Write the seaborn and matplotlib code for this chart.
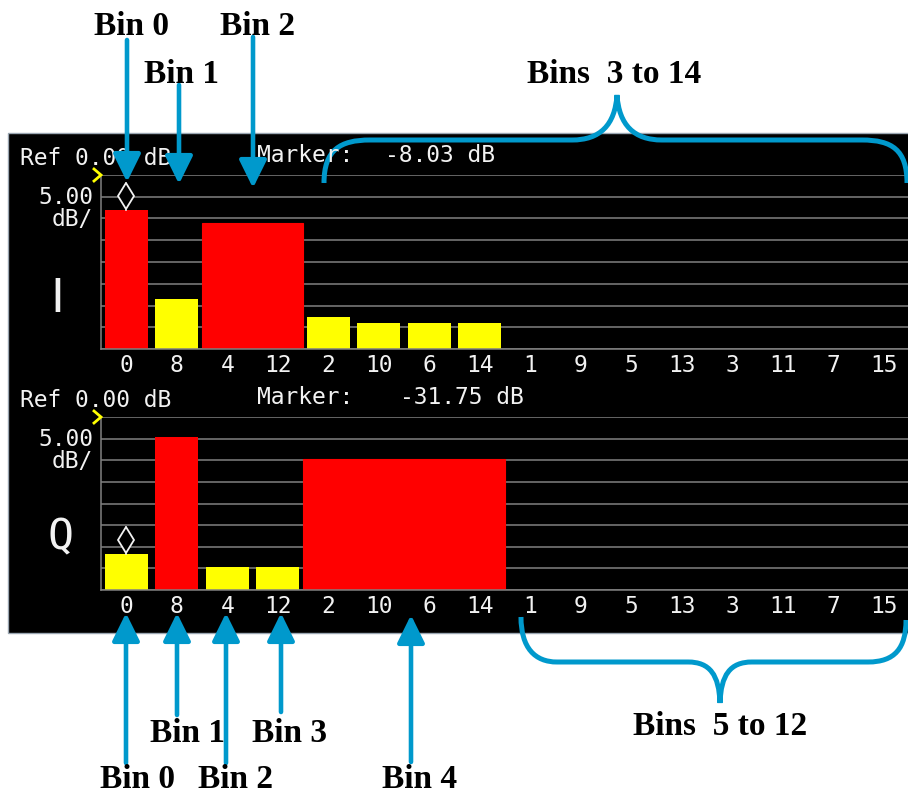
import numpy as np
import pandas as pd
import seaborn as sns
import matplotlib.pyplot as plt
from matplotlib.patches import Rectangle, PathPatch
from matplotlib.path import Path

# Step 1: Data (in dB)
bin_order = ['0', '8', '4', '12', '2', '10', '6', '14',
             '1', '9', '5', '13', '3', '11', '7', '15']

i_bins = ['0', '8', '2', '10', '6', '14']
i_db = [-8.03, -28.5, -32.6, -34.0, -34.0, -34.0]
i_colors = ['red', 'yellow', 'yellow', 'yellow', 'yellow', 'yellow']
i_wide_bins = ['4', '12']
i_wide_db = [-11.0, -11.0]
i_marker_db = -8.03

q_bins = ['0', '8', '4', '12']
q_db = [-31.75, -4.6, -34.7, -34.7]
q_colors = ['yellow', 'red', 'yellow', 'yellow']
q_wide_bins = ['2', '10', '6', '14']
q_wide_db = [-9.7, -9.7, -9.7, -9.7]
q_marker_db = -31.75

ref_db = 0.0
db_per_div = 5.0
n_div = 8
floor_db = ref_db - db_per_div * n_div

top_labels = ['Bin 0', 'Bin 1', 'Bin 2', 'Bins  3 to 14']
bottom_labels = ['Bin 1', 'Bin 3', 'Bin 0', 'Bin 2', 'Bin 4', 'Bins  5 to 12']

# Step 2: Style
pal = {'red': '#ff0000', 'yellow': '#ffff00'}
blue = '#0099cc'
grid_gray = '#808080'
screen_white = '#f2f2f2'
plt.rcParams['font.family'] = ['DejaVu Sans Mono']

W, H = 908, 794
fig = plt.figure(figsize=(W / 100, H / 100), dpi=100)

# background axes in pixel coordinates (black instrument screen)
bg = fig.add_axes([0, 0, 1, 1])
bg.set_xlim(0, W)
bg.set_ylim(H, 0)
bg.axis('off')
bg.add_patch(Rectangle((8, 133), 905, 500, facecolor='black',
                       edgecolor='#9aa6b2', linewidth=1.0))


def bin_frame(bins, db, colors):
    # slot position on screen follows the bit-reversed bin order
    return pd.DataFrame({'slot': [bin_order.index(b) for b in bins],
                         'height': np.array(db) - floor_db,
                         'c': colors})


def draw_panel(ax, bins, db, colors, wide_bins, wide_db, marker_db):
    df = bin_frame(bins, db, colors)
    sns.barplot(data=df, x='slot', y='height', hue='c', palette=pal,
                native_scale=True, width=0.86, dodge=False, saturation=1,
                errorbar=None, legend=False, linewidth=0, ax=ax)
    wide = bin_frame(wide_bins, wide_db, ['red'] * len(wide_bins))
    sns.barplot(data=wide, x='slot', y='height', color=pal['red'],
                native_scale=True, width=1.0, saturation=1, errorbar=None,
                edgecolor=pal['red'], linewidth=0.8, ax=ax)

    ax.set_facecolor('none')
    ax.set_xlim(-0.5, len(bin_order) - 0.5)
    ax.set_xticks(range(len(bin_order)))
    ax.set_xticklabels(bin_order)
    ax.set_ylim(0, n_div * db_per_div)
    ax.set_yticks(np.arange(0, n_div * db_per_div + 1, db_per_div))
    ax.set_yticklabels([])
    ax.yaxis.grid(True, color=grid_gray, linewidth=1.1)
    ax.xaxis.grid(False)
    ax.set_axisbelow(True)
    ax.set_xlabel('')
    ax.set_ylabel('')
    for side in ['top', 'right']:
        ax.spines[side].set_visible(False)
    for side in ['left', 'bottom']:
        ax.spines[side].set_color(grid_gray)
        ax.spines[side].set_linewidth(1.1)
    ax.tick_params(axis='x', colors=screen_white, length=0, labelsize=16.5,
                   pad=3.3)
    ax.tick_params(axis='y', length=0)

    # marker symbol on bin 0
    pos = bin_order.index('0')
    h = marker_db - floor_db
    ax.plot([pos, pos], [h, h + 6.3], color=screen_white, linewidth=1.2,
            zorder=5)
    ax.plot(pos, h + 3.3, marker='d', markersize=13, markerfacecolor='black',
            markeredgecolor=screen_white, markeredgewidth=1.3, zorder=6)


ax_i = fig.add_axes([101 / W, 1 - 349 / H, 808 / W, 174 / H])
draw_panel(ax_i, i_bins, i_db, i_colors, i_wide_bins, i_wide_db, i_marker_db)

ax_q = fig.add_axes([101 / W, 1 - 590 / H, 808 / W, 173 / H])
draw_panel(ax_q, q_bins, q_db, q_colors, q_wide_bins, q_wide_db, q_marker_db)

# Step 3: Overlay axes for screen text, arrows and braces
ov = fig.add_axes([0, 0, 1, 1])
ov.set_xlim(0, W)
ov.set_ylim(H, 0)
ov.axis('off')
ov.patch.set_alpha(0)

txt = dict(color=screen_white, fontsize=16.5, va='baseline')
for top, name, marker_db, val_x in [(175, 'I', i_marker_db, 385),
                                    (417, 'Q', q_marker_db, 400)]:
    ov.text(20, top - 10, f'Ref {ref_db:.2f} dB', ha='left', **txt)
    ov.text(257, top - 13, 'Marker:', ha='left', **txt)
    ov.text(val_x, top - 13, f'{marker_db:.2f} dB', ha='left', **txt)
    ov.text(93, top + 29, f'{db_per_div:.2f}', ha='right', **txt)
    ov.text(93, top + 51, 'dB/', ha='right', **txt)
    # yellow reference level chevron at the top graticule line
    ov.plot([94, 101, 94], [top - 6, top, top + 6], color='#ffff00',
            linewidth=2.0, solid_joinstyle='miter')
ov.text(57, 312, 'I', ha='center', va='baseline', color=screen_white,
        fontsize=34, family=['DejaVu Sans'])
ov.text(60, 549, 'Q', ha='center', va='baseline', color=screen_white,
        fontsize=31)

arrow_style = dict(arrowstyle='-|>,head_length=0.85,head_width=0.42',
                   color=blue, lw=3.3, mutation_scale=20,
                   shrinkA=0, shrinkB=0)
top_arrows = [(127, 40, 182), (179, 85, 184), (253, 37, 188)]
bottom_arrows = [(126, 763, 613), (177, 715, 613), (226, 763, 613),
                 (281, 712, 613), (411, 762, 615)]
for x, tail, tip in top_arrows + bottom_arrows:
    ov.annotate('', xy=(x, tip), xytext=(x, tail), arrowprops=arrow_style)

lab = dict(family=['Liberation Serif'], fontweight='bold', fontsize=24,
           color='black', ha='center', va='baseline')
top_pos = [(132, 35), (181, 83), (257, 35), (614, 83)]
for s, (x, y) in zip(top_labels, top_pos):
    ov.text(x, y, s, **lab)
bottom_pos = [(187, 742), (290, 742), (138, 788), (236, 788), (420, 788),
              (720, 735)]
for s, (x, y) in zip(bottom_labels, bottom_pos):
    ov.text(x, y, s, **lab)

M, L, C = Path.MOVETO, Path.LINETO, Path.CURVE4
top_brace = Path(
    [(324, 183), (324, 150), (340, 140), (370, 140), (572, 140),
     (600, 140), (615, 125), (617, 95), (619, 125), (634, 140), (662, 140),
     (862, 140), (892, 140), (907, 150), (907, 183)],
    [M, C, C, C, L, C, C, C, C, C, C, L, C, C, C])
bottom_brace = Path(
    [(521, 617), (521, 648), (535, 662), (557, 662), (688, 662),
     (710, 662), (719, 675), (720, 703), (721, 675), (730, 662), (752, 662),
     (868, 662), (895, 662), (906, 648), (906, 620)],
    [M, C, C, C, L, C, C, C, C, C, C, L, C, C, C])
for p in [top_brace, bottom_brace]:
    ov.add_patch(PathPatch(p, facecolor='none', edgecolor=blue, lw=3.6,
                           capstyle='butt'))

fig.savefig('out.png', dpi=100)
